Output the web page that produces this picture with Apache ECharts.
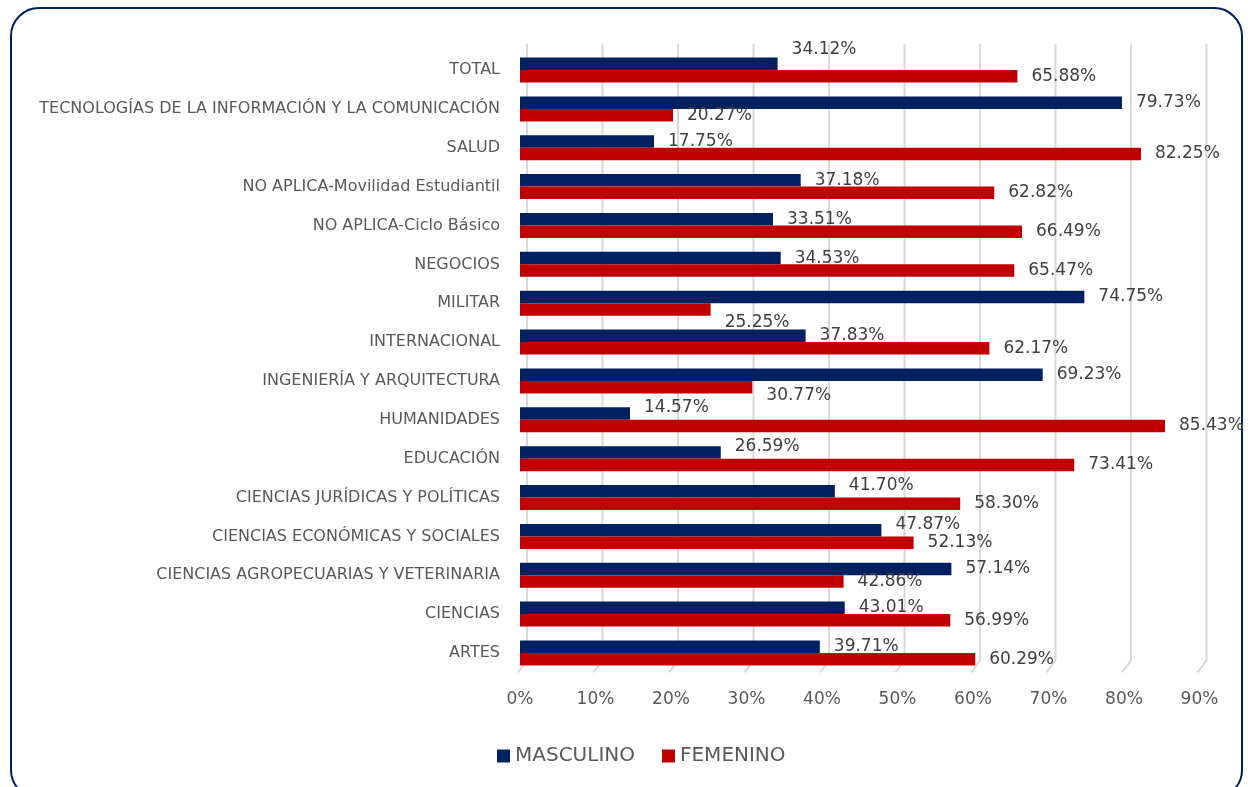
<!DOCTYPE html>
<html><head><meta charset="utf-8">
<script src="https://cdn.jsdelivr.net/npm/echarts@6/dist/echarts.min.js"></script>
<style>html,body{margin:0;padding:0;background:#fff}#c{width:1248px;height:787px}</style>
</head><body><div id="c"></div>
<script>
var categories = ['TOTAL','TECNOLOGÍAS DE LA INFORMACIÓN Y LA COMUNICACIÓN','SALUD','NO APLICA-Movilidad Estudiantil','NO APLICA-Ciclo Básico','NEGOCIOS','MILITAR','INTERNACIONAL','INGENIERÍA Y ARQUITECTURA','HUMANIDADES','EDUCACIÓN','CIENCIAS JURÍDICAS Y POLÍTICAS','CIENCIAS ECONÓMICAS Y SOCIALES','CIENCIAS AGROPECUARIAS Y VETERINARIA','CIENCIAS','ARTES'];
var masculino = [34.12,79.73,17.75,37.18,33.51,34.53,74.75,37.83,69.23,14.57,26.59,41.70,47.87,57.14,43.01,39.71];
var femenino  = [65.88,20.27,82.25,62.82,66.49,65.47,25.25,62.17,30.77,85.43,73.41,58.30,52.13,42.86,56.99,60.29];
var xTicks = [0,10,20,30,40,50,60,70,80,90];

// label vertical nudges (style only)
var mascNudge = {'TOTAL':-14,'HUMANIDADES':-6,'EDUCACIÓN':-6,'CIENCIAS JURÍDICAS Y POLÍTICAS':-6,'CIENCIAS ECONÓMICAS Y SOCIALES':-6};
var femNudge = {'MILITAR':13,'INGENIERÍA Y ARQUITECTURA':8};

function build(vals, nudge){
  return vals.map(function(v,i){
    var dy = nudge[categories[i]] || 0;
    return {value:v, label:{offset:[0,dy]}};
  });
}
var labelStyle = {show:true, position:'right', distance:14, fontSize:17, color:'#404040',
  fontFamily:'DejaVu Sans', formatter:function(p){return p.value.toFixed(2)+'%';}};

var chart = echarts.init(document.getElementById('c'));
chart.setOption({
  animation:false,
  textStyle:{fontFamily:'DejaVu Sans'},
  graphic:[{type:'rect', shape:{x:11,y:8,width:1231,height:790,r:28}, style:{fill:'none',stroke:'#002060',lineWidth:2}}],
  grid:{left:520,right:48.5,top:50.6,bottom:114.6},
  legend:{top:741,left:492,itemWidth:13,itemHeight:13,itemGap:27,icon:'rect',
    textStyle:{fontSize:20,color:'#595959',fontFamily:'DejaVu Sans'},
    data:['MASCULINO','FEMENINO']},
  xAxis:{type:'value',min:0,max:90,interval:10,
    axisLabel:{formatter:function(v){return v+'%';},fontSize:17,color:'#595959',margin:19,fontFamily:'DejaVu Sans'},
    axisLine:{show:false},axisTick:{show:false},
    splitLine:{show:false}},
  yAxis:{type:'category',data:categories,inverse:true,
    axisLine:{show:false},axisTick:{show:false},
    axisLabel:{fontSize:16,color:'#595959',margin:20,fontFamily:'DejaVu Sans'}},
  series:[
    {type:'custom', silent:true, z:0, clip:false,
      data:xTicks.map(function(v){return [v];}),
      encode:{x:0},
      renderItem:function(params, api){
        var cs = params.coordSys;
        var x = api.coord([api.value(0), categories[0]])[0];
        var top = cs.y, bot = cs.y + cs.height;
        return {type:'polyline', shape:{points:[[x+7, top-7],[x+7, bot-12],[x-2, bot]]},
          style:{stroke:'#D9D9D9', lineWidth:2, fill:null}};
      }},
    {name:'MASCULINO',type:'bar',data:build(masculino,mascNudge),barWidth:12.5,barGap:'0%',z:2,
      itemStyle:{color:'#002060'},label:labelStyle},
    {name:'FEMENINO',type:'bar',data:build(femenino,femNudge),barWidth:12.5,barGap:'0%',z:2,
      itemStyle:{color:'#C00000'},label:labelStyle}
  ]
});
</script></body></html>
